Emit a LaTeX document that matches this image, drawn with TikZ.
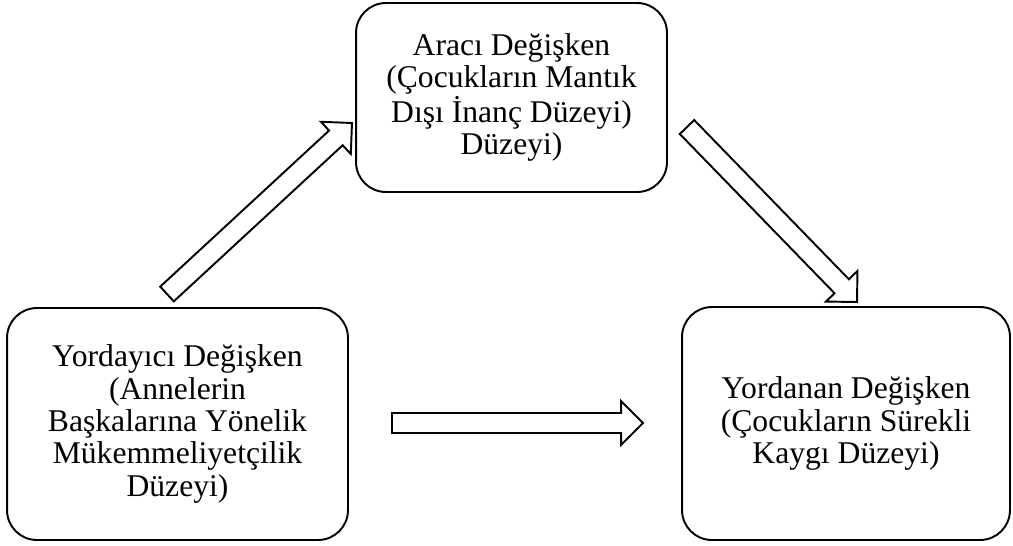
\documentclass[tikz,border=0pt]{standalone}
\usepackage{fontspec}
\setmainfont{Liberation Serif}
\usetikzlibrary{calc}

% block arrow sizes
\def\shaftw{5.7pt} %<- half width of the shaft
\def\headw{12.5pt} %<- half width of the head
\def\headlen{12.5pt} %<- length of the head

\newcommand{\blockarrow}[2]{%
  \coordinate (neck) at ($(#2)!\headlen!(#1)$);
  \draw[arrowbody] ($(#1)!\shaftw!90:(#2)$) -- ($(neck)!\shaftw!90:(#2)$)
    -- ($(neck)!\headw!90:(#2)$) -- (#2) -- ($(neck)!\headw!-90:(#2)$)
    -- ($(neck)!\shaftw!-90:(#2)$) -- ($(#1)!\shaftw!-90:(#2)$) -- cycle;
}

\begin{document}
\begin{tikzpicture}[x=0.02cm,y=-0.02cm,
  varbox/.style={draw,line width=1.1pt,rounded corners=17pt,inner sep=0pt,
    align=center,font=\fontsize{18}{18.4}\selectfont},
  arrowbody/.style={draw,line width=1.1pt,fill=white,line join=miter}]

\useasboundingbox (0,0) rectangle (1013,545);

% Mediator
\node[varbox,minimum width=6.22cm,minimum height=3.78cm] (med) at (511.5,97.5)
  {Aracı Değişken\\(Çocukların Mantık\\Dışı İnanç Düzeyi)\\Düzeyi)};

% Predictor
\node[varbox,minimum width=6.82cm,minimum height=4.64cm] (pred) at (177.5,424)
  {Yordayıcı Değişken\\(Annelerin\\Başkalarına Yönelik\\Mükemmeliyetçilik\\Düzeyi)};

% Outcome
\node[varbox,minimum width=6.56cm,minimum height=4.66cm] (out) at (846,423.5)
  {Yordanan Değişken\\(Çocukların Sürekli\\Kaygı Düzeyi)};

% Arrows
\coordinate (upTail) at (167,294);
\coordinate (upTip) at (352,123);
\blockarrow{upTail}{upTip}

\coordinate (downTail) at (687,127);
\coordinate (downTip) at (857,302);
\blockarrow{downTail}{downTip}

\coordinate (directTail) at (392,423);
\coordinate (directTip) at (643,423);
\blockarrow{directTail}{directTip}

\end{tikzpicture}
\end{document}
